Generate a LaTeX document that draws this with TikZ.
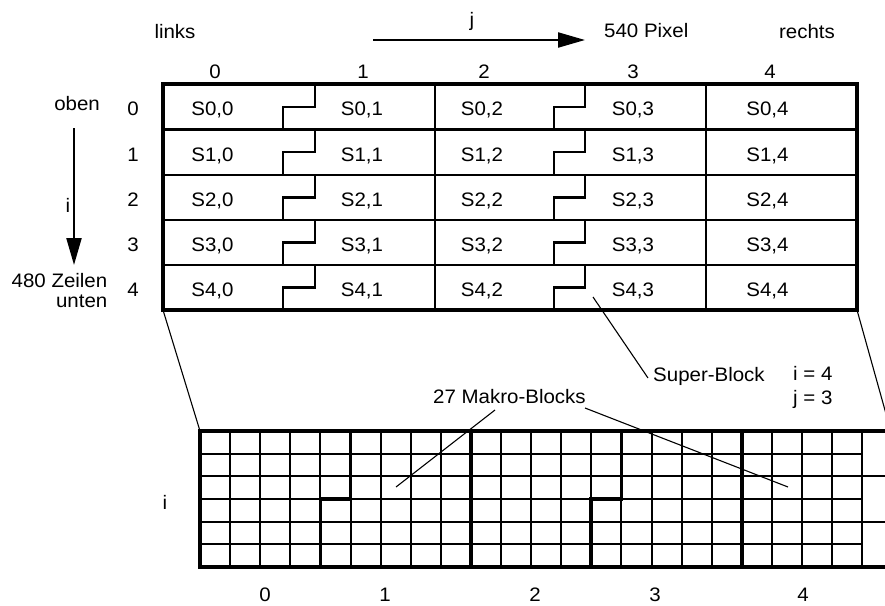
\documentclass[tikz,border=0pt]{standalone}
\usepackage{fontspec}
\setmainfont[FakeStretch=1.05]{Liberation Sans}
\usetikzlibrary{arrows.meta}
\begin{document}
\begin{tikzpicture}[x=1pt,y=-1pt,
  lbl/.style={inner sep=0pt, anchor=base, font=\fontsize{19.5}{23}\selectfont},
  lblw/.style={lbl, anchor=base west},
  lble/.style={lbl, anchor=base east},
  outer/.style={line width=3.2pt},
  inner/.style={line width=2.6pt},
  fine/.style={line width=2.2pt},
  heavy/.style={line width=3.8pt},
  thin/.style={line width=2pt},
  leader/.style={line width=1.1pt},
  bigarrow/.style={line width=2.2pt, -{Triangle[length=27pt,width=15pt]}}]
\useasboundingbox (0,0) rectangle (885,605);
\clip (0,0) rectangle (885,605);

% ---------- top grid ----------
\foreach \t/\b in {84/129.5,129.5/175,175/220,220/265,265/310}{
  \pgfmathsetmacro\m{(\t+\b)/2}
  \draw[fine] (315,\t) -- (315,\m) -- (283,\m) -- (283,\b);
  \draw[fine] (585,\t) -- (585,\m) -- (554,\m) -- (554,\b);
}
\foreach \y in {129.5,175,220,265} \draw[inner] (163,\y) -- (857,\y);
\draw[inner] (435,84) -- (435,310);
\draw[inner] (706,84) -- (706,310);
\draw[outer] (163,84) rectangle (857,310);

\foreach \i/\yb in {0/115.5,1/161,2/206,3/251,4/296.5}{
  \foreach \j/\xc in {0/212.5,1/362,2/482,3/633,4/767.5}{
    \node[lbl] (s\i\j) at (\xc,\yb) {S\i,\j};
  }
  \node[lbl] (r\i) at (133,\yb) {\i};
}
\foreach \j/\xc in {0/215,1/363,2/484,3/633,4/770}
  \node[lbl] (c\j) at (\xc,78) {\j};

% ---------- top labels ----------
\node[lbl] (links) at (175,38.5) {links};
\node[lbl] (jlab) at (472,26) {j};
\node[lblw] (pix) at (604,37.5) {540 Pixel};
\node[lbl] (rechts) at (807,38) {rechts};
\coordinate (ja) at (373,40);
\coordinate (jb) at (585,40);
\draw[bigarrow] (ja) -- (jb);

% ---------- left labels ----------
\node[lble] (oben) at (100,110) {oben};
\node[lbl] (ilab) at (68,212) {i};
\node[lble] (zeilen) at (107.5,287) {480 Zeilen};
\node[lble] (unten) at (107.5,307) {unten};
\coordinate (ia) at (74,128);
\coordinate (ib) at (74,265);
\draw[bigarrow] (ia) -- (ib);

% ---------- bottom grid ----------
\foreach \k in {1,...,22}
  \draw[thin] (200+\k*30.1,431) -- (200+\k*30.1,567);
\foreach \r in {1,...,5}
  \draw[thin] (200,431+\r*22.667) -- (862.2,431+\r*22.667);
\draw[thin] (862.2,476.3) -- (890,476.3);
\draw[thin] (862.2,521.7) -- (890,521.7);
% super-block boundaries
\draw[heavy] (350.5,431) -- (350.5,499) -- (320.4,499) -- (320.4,567);
\draw[heavy] (470.9,431) -- (470.9,567);
\draw[heavy] (621.4,431) -- (621.4,499) -- (591.3,499) -- (591.3,567);
\draw[heavy] (741.8,431) -- (741.8,567);
% outer border
\draw[heavy] (890,431) -- (200,431) -- (200,567) -- (890,567);

\node[lbl] (bi) at (165,509) {i};
\foreach \j/\xc in {0/265,1/385,2/535,3/655,4/803}
  \node[lbl] (b\j) at (\xc,601.5) {\j};

% ---------- funnel and leaders ----------
\coordinate (tl) at (163,310);
\coordinate (bl) at (200,431);
\coordinate (tr) at (857,310);
\coordinate (br) at (888,421);
\draw[leader] (tl) -- (bl);
\draw[leader] (tr) -- (br);

\node[lblw] (sb) at (653,381) {Super-Block};
\node[lblw] (ij4) at (793,380) {i = 4};
\node[lblw] (ij3) at (793,404) {j = 3};
\node[lblw] (mb) at (433,403) {27 Makro-Blocks};

\coordinate (sbtip) at (593,297);
\coordinate (sbend) at (648,378);
\draw[leader] (sbtip) -- (sbend);
\coordinate (mb1s) at (495,410);
\coordinate (mb1e) at (396,487);
\coordinate (mb2s) at (585,408);
\coordinate (mb2e) at (788,487);
\draw[leader] (mb1s) -- (mb1e);
\draw[leader] (mb2s) -- (mb2e);
\end{tikzpicture}
\end{document}
